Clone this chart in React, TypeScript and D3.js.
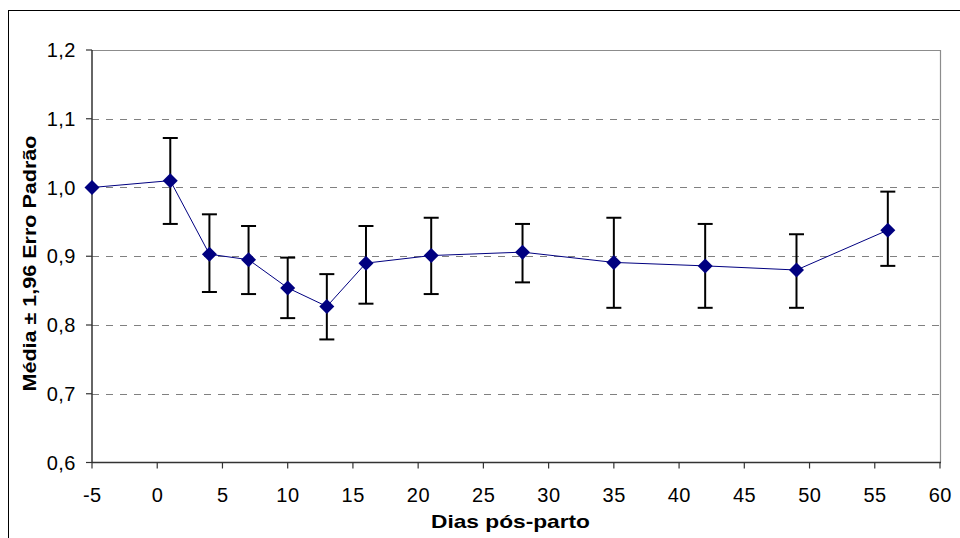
import React from "react";
import * as d3 from "d3";

const days = [-5, 1, 4, 7, 10, 13, 16, 21, 28, 35, 42, 49, 56];
const means = [1.0, 1.01, 0.903, 0.895, 0.854, 0.827, 0.89, 0.901, 0.906, 0.891, 0.886, 0.88, 0.938];
const upper = [1.0, 1.072, 0.961, 0.944, 0.898, 0.874, 0.944, 0.956, 0.947, 0.956, 0.947, 0.932, 0.994];
const lower = [1.0, 0.947, 0.848, 0.845, 0.81, 0.779, 0.831, 0.845, 0.862, 0.825, 0.825, 0.825, 0.886];
const xTicks = [-5, 0, 5, 10, 15, 20, 25, 30, 35, 40, 45, 50, 55, 60];
const yTicks = [0.6, 0.7, 0.8, 0.9, 1.0, 1.1, 1.2];
const gridTicks = [0.7, 0.8, 0.9, 1.0, 1.1];
const xTitle = "Dias pós-parto";
const yTitle = "Média ± 1,96 Erro Padrão";

const W = 960;
const H = 538;
const L = 92;
const R = 940;
const T = 50;
const B = 462.5;
const FONT = "'Liberation Sans', Arial, sans-serif";

export default function App() {
  const x = d3.scaleLinear().domain([-5, 60]).range([L, R]);
  const y = d3.scaleLinear().domain([0.6, 1.2]).range([B, T]);
  const line = d3
    .line<number>()
    .x((_, i) => x(days[i]))
    .y((d) => y(d));
  const fmt = (v: number) => d3.format(".1f")(v).replace(".", ",");
  const cap = 7.5;
  const ms = 7.5;

  return (
    <svg
      width={W}
      height={H}
      style={{ position: "absolute", left: 0, top: 0, background: "#fff" }}
    >
      <rect x={0} y={0} width={W} height={H} fill="#fff" />
      <rect x={8.5} y={10.5} width={1200} height={1200} fill="none" stroke="#000" strokeWidth={1} />

      {gridTicks.map((t) => (
        <line
          key={t}
          x1={L}
          x2={R}
          y1={Math.round(y(t)) + 0.5}
          y2={Math.round(y(t)) + 0.5}
          stroke="#808080"
          strokeWidth={1}
          strokeDasharray="7,7"
        />
      ))}
      {/* plot frame top/right */}
      <line x1={L} x2={R + 0.5} y1={T + 0.5} y2={T + 0.5} stroke="#8c8c8c" strokeWidth={1.2} />
      <line x1={R + 0.5} x2={R + 0.5} y1={T} y2={B} stroke="#8c8c8c" strokeWidth={1.2} />
      {/* axes */}
      <line x1={L} x2={L} y1={T} y2={B + 0.5} stroke="#333" strokeWidth={1.5} />
      <line x1={L} x2={R + 1} y1={B} y2={B} stroke="#333" strokeWidth={1.5} />

      {yTicks.map((t) => (
        <g key={t}>
          <line x1={L - 6} x2={L} y1={y(t)} y2={y(t)} stroke="#333" strokeWidth={1.2} />
          <text
            x={76}
            y={y(t)}
            dy="0.36em"
            textAnchor="end"
            fontFamily={FONT}
            fontSize={20}
            letterSpacing={0.5}
            fill="#000"
          >
            {fmt(t)}
          </text>
        </g>
      ))}
      {xTicks.map((t) => (
        <g key={t}>
          <line x1={x(t)} x2={x(t)} y1={B} y2={B + 6} stroke="#333" strokeWidth={1.2} />
          <text
            x={x(t) + 0.3}
            y={502}
            textAnchor="middle"
            fontFamily={FONT}
            fontSize={20}
            letterSpacing={0.5}
            fill="#000"
          >
            {t}
          </text>
        </g>
      ))}

      <path d={line(means) || ""} fill="none" stroke="#000080" strokeWidth={1} />

      {days.map((d, i) =>
        upper[i] - lower[i] > 0 ? (
          <g key={d} stroke="#000" strokeWidth={2}>
            <line x1={x(d)} x2={x(d)} y1={y(upper[i])} y2={y(lower[i])} />
            <line x1={x(d) - cap} x2={x(d) + cap} y1={y(upper[i])} y2={y(upper[i])} />
            <line x1={x(d) - cap} x2={x(d) + cap} y1={y(lower[i])} y2={y(lower[i])} />
          </g>
        ) : null
      )}

      {days.map((d, i) => {
        const cx = x(d);
        const cy = y(means[i]);
        return (
          <path
            key={d}
            d={`M${cx},${cy - ms}L${cx + ms},${cy}L${cx},${cy + ms}L${cx - ms},${cy}Z`}
            fill="#000080"
          />
        );
      })}

      <text
        x={431}
        y={528}
        textLength={159}
        lengthAdjust="spacingAndGlyphs"
        fontFamily={FONT}
        fontSize={19}
        fontWeight="bold"
        fill="#000"
      >
        {xTitle}
      </text>
      <text
        transform={`translate(35.5,${391.5}) rotate(-90)`}
        textLength={256}
        lengthAdjust="spacingAndGlyphs"
        fontFamily={FONT}
        fontSize={19}
        fontWeight="bold"
        fill="#000"
      >
        {yTitle}
      </text>
    </svg>
  );
}
